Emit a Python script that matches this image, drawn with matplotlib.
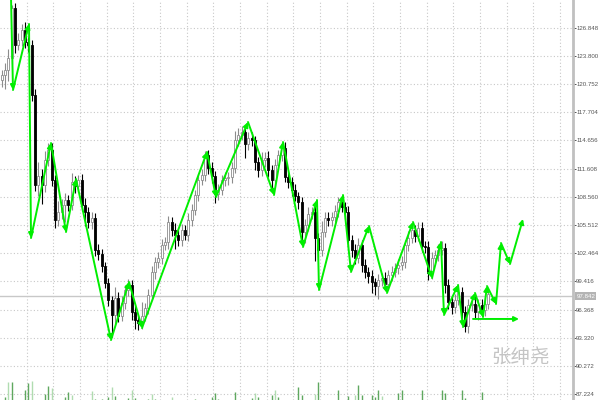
import matplotlib.pyplot as plt
import numpy as np

# daily closes, one per bar (open = previous close)
first_open = 121.2
closes = [121.73, 122.27, 123.57, 128.98, 124.98, 125.52, 126.60, 125.30, 124.98, 119.57,
          109.84, 110.81, 109.84, 112.54, 113.63, 110.38, 106.06, 106.92, 107.68, 108.22,
          107.68, 110.17, 109.73, 110.38, 107.68, 106.92, 105.84, 106.27, 102.82, 102.38,
          101.08, 99.25, 97.41, 95.79, 97.63, 95.68, 97.09, 98.49, 99.03, 96.11,
          95.25, 94.92, 95.68, 96.54, 97.95, 100.44, 101.52, 101.95, 103.36, 103.68,
          105.84, 104.98, 104.44, 103.90, 104.98, 104.44, 106.06, 107.14, 108.76, 110.38,
          110.92, 113.08, 111.68, 110.81, 108.87, 109.30, 110.38, 110.60, 110.71, 111.68,
          114.71, 115.25, 115.57, 114.27, 114.92, 114.71, 112.33, 111.46, 112.54, 112.76,
          111.46, 110.38, 112.00, 113.08, 113.84, 110.71, 110.17, 109.30, 108.65, 108.00,
          104.76, 105.52, 106.71, 106.92, 104.11, 102.82, 104.76, 106.27, 106.06, 106.38,
          107.03, 108.00, 107.46, 106.92, 103.90, 102.82, 101.95, 103.36, 101.19, 100.44,
          100.00, 99.36, 98.92, 99.57, 99.79, 99.14, 100.11, 100.44, 100.87, 101.19,
          101.52, 103.36, 104.11, 104.98, 104.33, 105.19, 103.25, 103.14, 100.33, 101.95,
          102.27, 102.82, 103.03, 99.03, 97.19, 96.65, 97.41, 98.27, 96.11, 94.60,
          96.87, 96.98, 96.11, 96.87, 96.33, 96.98, 98.06]

wick_up = [0.5, 0.8, 1.0, 0.3, 0.5, 0.8, 0.6, 0.9, 0.5, 0.5,
           0.6, 1.5, 0.8, 1.0, 0.8, 0.7, 0.5, 1.2, 0.6, 0.8,
           0.5, 1.0, 0.6, 0.5, 0.6, 0.8, 0.5, 0.7, 0.5, 0.6,
           0.5, 0.4, 0.5, 0.4, 1.2, 0.6, 0.8, 0.5, 0.7, 0.5,
           0.6, 0.5, 1.5, 0.5, 0.6, 0.6, 0.5, 0.7, 0.6, 0.5,
           0.6, 0.5, 0.7, 0.5, 0.6, 0.5, 0.8, 0.6, 0.5, 0.7,
           0.6, 0.4, 0.5, 0.6, 0.5, 0.7, 0.5, 0.6, 0.5, 0.6,
           1.0, 0.8, 0.6, 0.5, 0.6, 0.7, 0.4, 0.5, 0.9, 0.6,
           0.8, 0.5, 0.6, 0.5, 0.5, 0.6, 0.5, 0.5, 0.6, 0.4,
           0.5, 0.6, 0.7, 0.5, 0.6, 0.5, 1.2, 0.6, 0.7, 0.5,
           0.6, 0.5, 0.7, 0.5, 0.6, 0.5, 0.6, 0.8, 0.5, 0.6,
           0.5, 0.6, 0.4, 0.7, 0.5, 0.6, 0.5, 0.6, 0.5, 0.7,
           0.6, 0.5, 0.8, 0.6, 0.5, 0.6, 0.7, 0.5, 0.6, 0.7,
           0.5, 0.6, 0.8, 0.5, 0.6, 0.7, 0.6, 0.9, 0.5, 0.6,
           0.7, 0.6, 0.9, 0.6, 0.7, 0.6, 0.5]

wick_dn = [0.8, 1.5, 1.2, 0.6, 0.9, 0.5, 0.7, 0.6, 0.8, 0.6,
           0.7, 1.2, 2.0, 0.8, 0.6, 0.7, 0.9, 0.6, 0.8, 1.8,
           0.6, 0.5, 0.8, 0.6, 0.7, 1.5, 0.6, 0.8, 0.6, 0.7,
           0.6, 0.5, 0.7, 2.4, 1.0, 0.6, 0.5, 0.6, 0.7, 0.9,
           1.0, 0.8, 0.6, 0.5, 0.6, 0.5, 0.8, 0.6, 0.7, 0.5,
           0.8, 0.6, 1.5, 0.7, 0.6, 0.5, 0.6, 0.7, 0.5, 0.6,
           0.5, 0.6, 0.7, 0.8, 1.0, 0.6, 0.5, 0.6, 0.8, 0.6,
           0.5, 0.6, 0.5, 1.5, 0.6, 0.7, 0.9, 0.8, 0.6, 0.7,
           0.8, 1.0, 0.6, 0.5, 0.6, 0.5, 0.7, 0.6, 0.5, 0.8,
           0.9, 1.2, 0.6, 0.5, 2.5, 0.8, 0.6, 0.5, 0.7, 0.6,
           0.5, 0.6, 0.5, 0.7, 0.9, 0.8, 0.6, 0.5, 0.8, 0.6,
           0.7, 1.2, 1.0, 1.4, 0.6, 0.5, 0.7, 0.6, 0.5, 0.6,
           0.5, 0.6, 0.7, 0.5, 0.6, 0.5, 0.7, 0.6, 0.8, 0.6,
           0.5, 0.6, 0.5, 0.9, 0.8, 0.7, 0.6, 0.5, 0.9, 0.6,
           0.8, 0.6, 0.7, 0.9, 0.6, 0.7, 0.5]

# zigzag pivots (bar index, price)
zz_x = [2.8, 3.4, 8.2, 8.8, 14.8, 19.3, 22.3, 32.8, 38.2, 42.1, 61.6, 64.3, 73.9, 81.7,
        84.4, 90.4, 94.6, 95.2, 102.4, 104.8, 110.2, 115.6, 123.4, 129.1, 131.8, 132.7,
        136.9, 138.4, 142.0, 144.4, 145.6, 148.3, 149.8, 152.5, 156.4]
zz_y = [130.16, 120.11, 127.25, 104.11, 114.38, 104.76, 110.49, 93.08, 99.36, 94.38,
        113.41, 108.54, 116.65, 108.76, 114.49, 103.14, 108.22, 98.49, 108.76, 100.44,
        105.41, 98.17, 105.84, 99.79, 103.68, 95.79, 99.03, 94.49, 98.17, 95.57, 98.92,
        96.98, 103.57, 101.30, 106.17]
flat_x = [141.4, 155.2]
flat_y = 95.36

# volume (bar index, height, light shade)
vol_bar = [1, 2, 3, 7, 8, 9, 13, 14, 15, 19, 20, 21, 27, 28, 30, 32, 33, 34, 38, 39, 40,
           44, 45, 46, 51, 58, 63, 64, 65, 70, 75, 76, 77, 81, 82, 83, 89, 90, 94, 95,
           101, 104, 106, 107, 108, 111, 112, 113, 114, 119, 120, 126, 132, 133, 138, 139, 144]
vol_val = [3, 18, 18, 10, 17, 19, 6, 14, 12, 3, 8, 5, 9, 1, 1, 3, 13, 4, 2, 10, 2,
           1, 6, 1, 3, 1, 3, 7, 1, 8, 2, 7, 3, 5, 10, 3, 13, 5, 6, 18,
           10, 4, 5, 15, 5, 5, 3, 10, 4, 7, 10, 10, 10, 7, 10, 2, 8]
vol_light = [0, 1, 0, 0, 0, 1, 0, 0, 1, 0, 0, 1, 1, 0, 0, 0, 1, 0, 0, 1, 0,
             0, 1, 0, 1, 0, 0, 0, 0, 0, 0, 1, 0, 0, 1, 0, 0, 0, 1, 0,
             0, 0, 1, 0, 0, 0, 0, 0, 1, 0, 0, 0, 0, 0, 0, 0, 0]

y_ticks = [126.848, 123.800, 120.752, 117.704, 114.656, 111.608, 108.560,
           105.512, 102.464, 99.416, 96.368, 93.320, 90.272, 87.224]
last_price = 97.842

axis_font = ['Liberation Sans Narrow', 'Liberation Sans']

fig = plt.figure(figsize=(6, 4), dpi=100)
ax = fig.add_axes([0, 0, 573 / 600, 1])

opens = [first_open] + closes[:-1]
x = np.arange(len(closes))
for i in x:
    o, c = opens[i], closes[i]
    hi = max(o, c) + wick_up[i]
    lo = min(o, c) - wick_dn[i]
    bull = c >= o
    col = '#8c8c8c' if bull else 'black'
    ax.vlines(i, lo, hi, color=col, lw=0.8, zorder=3)
    h = max(abs(c - o), 0.08)
    ax.bar(i, h, bottom=min(o, c), width=0.62, color='white' if bull else 'black',
           edgecolor=col, linewidth=0.6, zorder=4)

# volume along the bottom
vt = ax.get_xaxis_transform()
for b, v, lt in zip(vol_bar, vol_val, vol_light):
    ax.vlines(b, 0, v / 400, transform=vt, color='#b0dcb0' if lt else '#5fa85f', lw=1.0, zorder=2)

# zigzag with arrows
for k in range(len(zz_x) - 1):
    ax.annotate('', xy=(zz_x[k + 1], zz_y[k + 1]), xytext=(zz_x[k], zz_y[k]),
                arrowprops=dict(arrowstyle='-|>', color='#00ee00', lw=1.4,
                                mutation_scale=7, shrinkA=0, shrinkB=0), zorder=5)
ax.annotate('', xy=(flat_x[1], flat_y), xytext=(flat_x[0], flat_y),
            arrowprops=dict(arrowstyle='-|>', color='#00ee00', lw=1.4,
                            mutation_scale=7, shrinkA=0, shrinkB=0), zorder=5)

ax.axhline(last_price, color='#c8c8c8', lw=1.0, zorder=1)

ax.set_xlim(-0.5, 171.4)
ax.set_ylim(129.84 - 400 * 0.1081, 129.84)
ax.set_xticks(np.arange(7.5, 172, 8))
ax.set_yticks(y_ticks)
ax.set_yticklabels([f'{t:.3f}' for t in y_ticks], family=axis_font)
ax.grid(True, color='#c8c8c8', lw=0.8, linestyle=(0, (1, 2)), zorder=0)
ax.set_axisbelow(True)
ax.yaxis.tick_right()
ax.tick_params(axis='x', length=0, labelbottom=False)
ax.tick_params(axis='y', labelsize=4.4, colors='#555555', length=1.8, width=0.7, pad=0.5)
for s in ['left', 'top', 'bottom']:
    ax.spines[s].set_visible(False)
ax.spines['right'].set_color('#c0c0c0')
ax.spines['right'].set_linewidth(2)

ax.text(1.006, last_price, f'{last_price:.3f}', transform=ax.get_yaxis_transform(),
        ha='left', va='center', fontsize=4.4, color='white', clip_on=False,
        family=axis_font, bbox=dict(facecolor='#b4b4b4', edgecolor='none', pad=0.8))

fig.text(0.867, 0.107, '张绅尧', fontsize=14, color='#c4c4c4', ha='center', va='center',
         family=['Noto Sans CJK SC', 'DejaVu Sans'])

fig.savefig('out.png', dpi=100)
